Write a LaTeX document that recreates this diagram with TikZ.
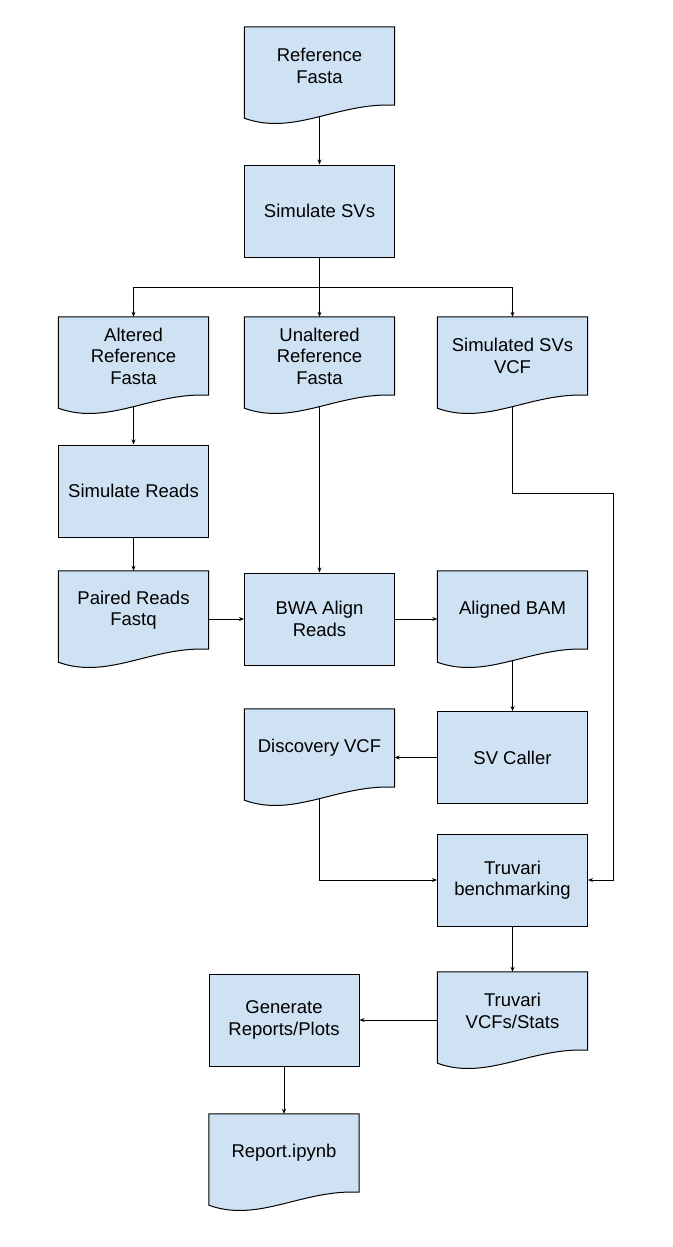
\documentclass[tikz,border=0pt]{standalone}
\usepackage{fontspec}
\setmainfont{Liberation Sans}
\usetikzlibrary{calc,backgrounds,arrows.meta}
\definecolor{boxfill}{HTML}{CFE2F3}
\begin{document}
\begin{tikzpicture}[x=1pt,y=-1pt,
  every node/.style={font=\fontsize{18.5}{21.5}\selectfont, align=center, inner sep=0pt, text=black},
  procbox/.style={draw=black, line width=1pt, fill=boxfill, minimum width=150pt, minimum height=92pt},
  docbox/.style={minimum width=150pt, minimum height=78pt},
  docshape/.style={draw=black, line width=1pt, fill=boxfill},
  arr/.style={-{Stealth[length=5pt,width=4pt]}, line width=0.8pt},
  conn/.style={line width=0.8pt}]
\useasboundingbox (0,0) rectangle (672,1247);

\node[docbox] (ref) at (319.5,66) {Reference\\Fasta};
\node[procbox] (simsv) at (319.5,211) {Simulate SVs};
\node[docbox] (alt) at (133.5,356) {Altered\\Reference\\Fasta};
\node[docbox] (unalt) at (319.5,356) {Unaltered\\Reference\\Fasta};
\node[docbox] (svvcf) at (512.5,356) {Simulated SVs\\VCF};
\node[procbox] (simrd) at (133.5,491) {Simulate Reads};
\node[docbox] (paired) at (133.5,610) {Paired Reads\\Fastq};
\node[procbox] (bwa) at (319.5,619) {BWA Align\\Reads};
\node[docbox] (bam) at (512.5,610) {Aligned BAM};
\node[procbox] (svc) at (512.5,757.5) {SV Caller};
\node[docbox] (disc) at (319.5,748) {Discovery VCF};
\node[procbox] (truv) at (512.5,880) {Truvari\\benchmarking};
\node[docbox] (tvcf) at (512.5,1011) {Truvari\\VCFs/Stats};
\node[procbox] (gen) at (284,1020) {Generate\\Reports/Plots};
\node[docbox] (rep) at (284,1153) {Report.ipynb};

\begin{scope}[on background layer]
\foreach \n in {ref,alt,unalt,svvcf,paired,bam,disc,tvcf,rep}
  \draw[docshape] (\n.north west) -- (\n.north east) -- (\n.south east)
    .. controls ($(\n.south west)!0.62!(\n.south east)+(0,3pt)$)
    and ($(\n.south west)!0.33!(\n.south east)+(0,-31pt)$)
    .. ($(\n.south west)+(0,-13pt)$) -- cycle;
\end{scope}

\draw[arr] ($(ref.south)+(0,-12pt)$) -- (simsv.north);
\coordinate (split) at (319.5,287);
\draw[conn] (simsv.south) -- (split);
\draw[arr] (split) -| (alt.north);
\draw[arr] (split) -- (unalt.north);
\draw[arr] (split) -| (svvcf.north);
\draw[arr] ($(alt.south)+(0,-12pt)$) -- (simrd.north);
\draw[arr] (simrd.south) -- (paired.north);
\draw[arr] ($(unalt.south)+(0,-12pt)$) -- (bwa.north);
\draw[arr] (paired.east |- bwa.west) -- (bwa.west);
\draw[arr] (bwa.east) -- (bwa.east -| bam.west);
\draw[arr] ($(bam.south)+(0,-12pt)$) -- (svc.north);
\draw[arr] (svc.west) -- (svc.west -| disc.east);
\coordinate (rjog) at (613,493);
\draw[arr] ($(svvcf.south)+(0,-12pt)$) |- (rjog) |- (truv.east);
\draw[arr] ($(disc.south)+(0,-12pt)$) |- (truv.west);
\draw[arr] (truv.south) -- (tvcf.north);
\draw[arr] (tvcf.west |- gen.east) -- (gen.east);
\draw[arr] (gen.south) -- (rep.north);
\end{tikzpicture}
\end{document}
